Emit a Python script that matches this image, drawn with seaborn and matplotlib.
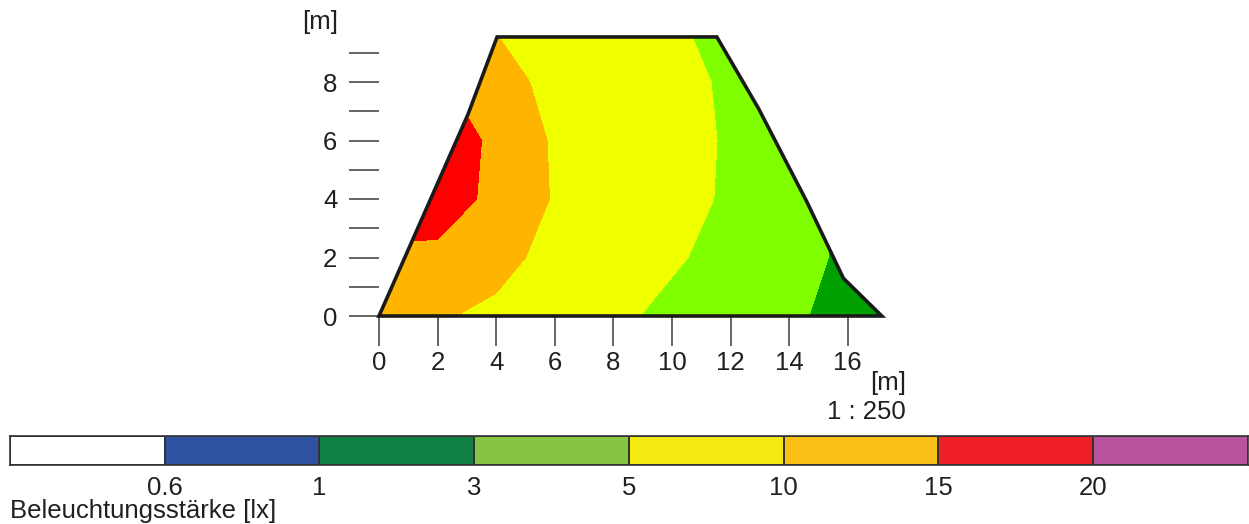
import numpy as np
import matplotlib
matplotlib.use("Agg")
import matplotlib.pyplot as plt
from matplotlib.colors import ListedColormap
from matplotlib.patches import Polygon
import seaborn as sns

# room outline [m]
room_x = [0, 3.04, 4.03, 11.53, 12.95, 14.60, 15.85, 17.16]
room_y = [0, 6.90, 9.54, 9.54, 7.10, 3.91, 1.29, 0]

# illuminance grid [lx]
grid_x = [0, 2, 4, 6, 8, 10, 12, 14, 16, 18]
grid_y = [0, 2, 4, 6, 8, 10]
lux_y0 = [11.0, 10.6, 8.7, 7.0, 5.5, 4.4, 3.7, 3.2, 2.6, 2.0]
lux_y2 = [14.0, 14.1, 12.0, 8.0, 6.5, 5.3, 4.2, 3.4, 2.8, 2.2]
lux_y4 = [18.0, 17.0, 14.0, 9.6, 7.5, 6.0, 4.6, 3.6, 2.8, 2.2]
lux_y6 = [19.0, 18.0, 14.0, 9.4, 7.4, 6.0, 4.7, 3.7, 2.9, 2.3]
lux_y8 = [15.0, 15.5, 12.0, 8.5, 7.2, 5.8, 4.6, 3.7, 2.9, 2.3]
lux_y10 = [11.0, 11.0, 9.6, 7.8, 6.6, 5.3, 4.1, 3.4, 2.7, 2.2]

levels = [0, 0.6, 1, 3, 5, 10, 15, 20, 100]
plot_colors = ["#ffffff", "#2040ff", "#00a000", "#80ff00",
               "#f0ff00", "#ffb400", "#ff0000", "#c040c0"]
legend_colors = ["#ffffff", "#3053a1", "#108142", "#87c441",
                 "#f3ea12", "#fbc016", "#ee2025", "#b7549d"]
legend_labels = ["0.6", "1", "3", "5", "10", "15", "20"]
x_ticks = [0, 2, 4, 6, 8, 10, 12, 14, 16]
y_ticks = [0, 1, 2, 3, 4, 5, 6, 7, 8, 9]

sns.set_theme(style="white")
plt.rcParams["font.family"] = ["Liberation Sans", "DejaVu Sans"]
txt = "#231f20"
fs = 18.5

W, H = 1249, 524
fig = plt.figure(figsize=(W / 100, H / 100), dpi=100)

# main plan view
ax = fig.add_axes([379 / W, (H - 316) / H, 17.4 * 29.3 / W, 9.7 * 29.25 / H])
lux = np.array([lux_y0, lux_y2, lux_y4, lux_y6, lux_y8, lux_y10])
cs = ax.contourf(grid_x, grid_y, lux, levels=levels, colors=plot_colors)
room = Polygon(np.column_stack([room_x, room_y]), closed=True, facecolor="none",
               edgecolor="#1a1a1a", lw=2.6, joinstyle="miter", clip_on=False, zorder=3)
ax.add_patch(room)
cs.set_clip_path(room)

ax.set_xlim(0, 17.4)
ax.set_ylim(0, 9.7)
ax.set_xticks(x_ticks)
ax.set_xticklabels([str(v) for v in x_ticks])
ax.set_yticks(y_ticks)
ax.set_yticklabels([str(v) if v % 2 == 0 else "" for v in y_ticks])
ax.tick_params(bottom=True, left=True, direction="out", length=21.5, width=1.1,
               color="#3a3a3a", labelsize=fs, labelcolor=txt)
ax.tick_params(axis="y", pad=8.5)
ax.tick_params(axis="x", pad=3.5)
for s in ax.spines.values():
    s.set_visible(False)
ax.set_facecolor("none")

fig.text(320 / W, 1 - 22 / H, "[m]", ha="center", va="center", fontsize=fs, color=txt)
fig.text(906 / W, 1 - 383 / H, "[m]", ha="right", va="center", fontsize=fs, color=txt)
fig.text(906 / W, 1 - 412 / H, "1 : 250", ha="right", va="center", fontsize=fs, color=txt)

# colour scale
lax = fig.add_axes([10 / W, (H - 465) / H, 1238 / W, 29 / H])
sns.heatmap(np.arange(len(legend_colors)).reshape(1, -1), ax=lax,
            cmap=ListedColormap(legend_colors), cbar=False, linewidths=1.2,
            linecolor="#333333", xticklabels=False, yticklabels=False)
lax.set_xticks(np.arange(1, len(legend_colors)))
lax.set_xticklabels(legend_labels)
lax.tick_params(axis="x", bottom=True, length=0, pad=8, labelsize=fs, labelcolor=txt)
for s in lax.spines.values():
    s.set_visible(True)
    s.set_color("#333333")
    s.set_linewidth(1.2)

fig.text(10 / W, 1 - 511 / H, "Beleuchtungsstärke [lx]", ha="left", va="center",
         fontsize=fs, color=txt)

fig.savefig("out.png", dpi=100)
